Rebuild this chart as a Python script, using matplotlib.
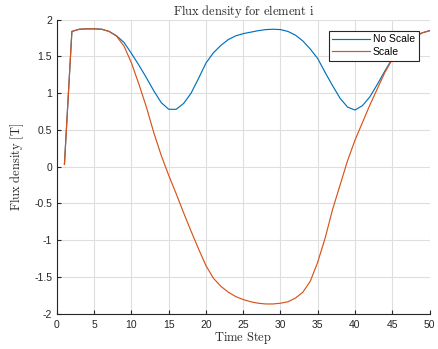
import matplotlib
matplotlib.use('Agg')
import matplotlib.pyplot as plt
import numpy as np

# flux density of element i, with and without scaling
time_step = list(range(1, 51))

no_scale = [0.03, 1.84, 1.87, 1.875, 1.875, 1.87, 1.84, 1.78, 1.69, 1.54,
            1.38, 1.21, 1.03, 0.87, 0.78, 0.78, 0.86, 1.0, 1.2, 1.41,
            1.55, 1.65, 1.73, 1.78, 1.81, 1.83, 1.85, 1.865, 1.87, 1.865,
            1.84, 1.79, 1.71, 1.6, 1.47, 1.28, 1.1, 0.93, 0.81, 0.77,
            0.83, 0.95, 1.12, 1.3, 1.47, 1.6, 1.7, 1.77, 1.82, 1.85]

scale = [0.03, 1.84, 1.87, 1.875, 1.875, 1.87, 1.84, 1.775, 1.64, 1.41,
         1.12, 0.81, 0.46, 0.15, -0.12, -0.37, -0.63, -0.88, -1.12, -1.35,
         -1.52, -1.63, -1.71, -1.77, -1.81, -1.84, -1.86, -1.87, -1.87, -1.86,
         -1.84, -1.79, -1.71, -1.56, -1.3, -0.97, -0.58, -0.25, 0.08, 0.36,
         0.6, 0.84, 1.06, 1.28, 1.46, 1.6, 1.7, 1.77, 1.82, 1.85]

xticks = list(range(0, 51, 5))
yticks = [-2, -1.5, -1, -0.5, 0, 0.5, 1, 1.5, 2]
ytick_labels = ['-2', '-1.5', '-1', '-0.5', '0', '0.5', '1', '1.5', '2']

plt.rcParams['font.family'] = 'Liberation Sans'
plt.rcParams['mathtext.fontset'] = 'cm'

fig = plt.figure(figsize=(4.38, 3.49), dpi=100)
ax = fig.add_axes([0.1301, 0.1017, 0.8505, 0.8419])

ax.plot(time_step, no_scale, color='#0072BD', lw=0.85, label='No Scale')
ax.plot(time_step, scale, color='#D95319', lw=0.85, label='Scale')

ax.set_xlim(0, 50)
ax.set_ylim(-2, 2)
ax.set_xticks(xticks)
ax.set_xticklabels([str(x) for x in xticks])
ax.set_yticks(yticks)
ax.set_yticklabels(ytick_labels)

# matlab look: grid on, box off, ticks inside
ax.grid(True, color='#dedede', lw=0.8)
ax.set_axisbelow(True)
for s in ['top', 'right']:
    ax.spines[s].set_visible(False)
for s in ['left', 'bottom']:
    ax.spines[s].set_color('#262626')
    ax.spines[s].set_linewidth(0.8)
ax.tick_params(axis='both', direction='in', length=3, width=0.8,
               color='#262626', labelcolor='#262626', labelsize=7.5)
ax.tick_params(axis='x', pad=5)
ax.tick_params(axis='y', pad=3.5)

ax.set_title(r'$\mathrm{Flux\ density\ for\ element\ i}$', fontsize=9,
             color='#262626', pad=3)
ax.set_xlabel(r'$\mathrm{Time\ Step}$', fontsize=9, color='#262626', labelpad=0)
ax.set_ylabel(r'$\mathrm{Flux\ density\ [T]}$', fontsize=9, color='#262626',
              labelpad=6)

leg = ax.legend(loc='upper right', bbox_to_anchor=(0.971, 0.9626),
                borderaxespad=0, fancybox=False, framealpha=1,
                edgecolor='#262626', fontsize=7.5, handlelength=3.6,
                handletextpad=0.3, labelspacing=0.25, borderpad=0.35)
leg.get_frame().set_linewidth(0.8)

plt.savefig('out.png', dpi=100)
plt.close()
